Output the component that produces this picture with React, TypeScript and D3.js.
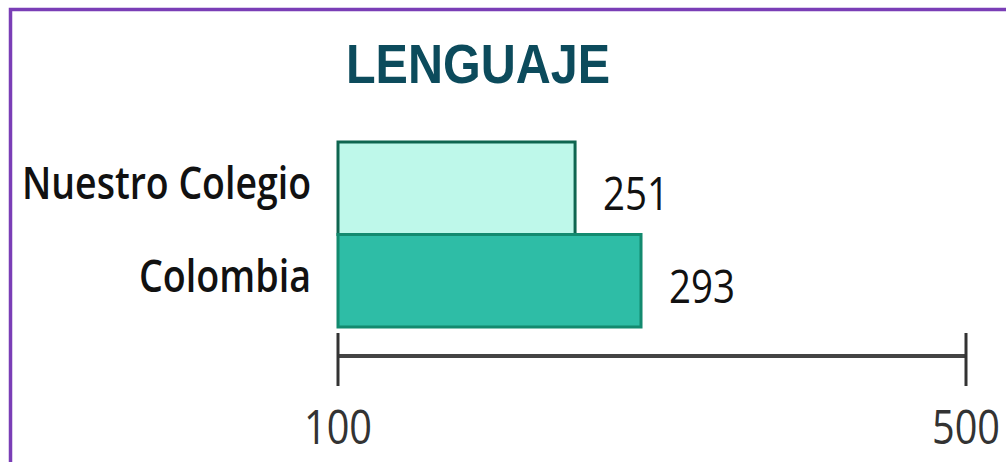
import React from "react";
import * as d3 from "d3";

const title = "LENGUAJE";
const categories = ["Nuestro Colegio", "Colombia"];
const values = [251, 293];
const barFills = ["#bef8ea", "#2ebda6"];
const barStrokes = ["#0f6650", "#138a6f"];
const tickValues = [100, 500];
const categoryLabelWidths = [289, 172];

export default function App() {
  const W = 1006;
  const H = 462;
  const x = d3.scaleLinear().domain([100, 500]).range([338, 966]);
  const y = d3.scaleBand<string>().domain(categories).range([142, 327]).padding(0);
  const axisY = 356;

  return (
    <svg
      width={W}
      height={H}
      style={{ position: "absolute", left: 0, top: 0, background: "#fff" }}
    >
      <rect x={0} y={0} width={W} height={H} fill="#fff" />
      <path d={`M10.5 ${H + 5} V9.5 H${W + 5}`} fill="none" stroke="#7a3eb6" strokeWidth={3.5} />

      <text
        x={346}
        y={83}
        fontFamily="Liberation Sans, Arial, sans-serif"
        fontWeight="bold"
        fontSize={55}
        fill="#0c4b5c"
        textLength={264}
        lengthAdjust="spacingAndGlyphs"
      >
        {title}
      </text>

      {categories.map((c, i) => {
        const y0 = y(c)!;
        const bw = y.bandwidth();
        return (
          <g key={c}>
            <rect
              x={x(100)}
              y={y0}
              width={x(values[i]) - x(100)}
              height={bw}
              fill={barFills[i]}
              stroke={barStrokes[i]}
              strokeWidth={3}
            />
            <text
              x={311}
              y={y0 + bw / 2 + 11}
              textAnchor="end"
              fontFamily="Open Sans, sans-serif"
              fontWeight={600}
              fontSize={45}
              fill="#111"
              textLength={categoryLabelWidths[i]}
              lengthAdjust="spacingAndGlyphs"
            >
              {c}
            </text>
            <text
              x={x(values[i]) + 28}
              y={y0 + bw / 2 + 22}
              fontFamily="Open Sans, sans-serif"
              fontSize={45}
              fill="#111"
              textLength={66}
              lengthAdjust="spacingAndGlyphs"
            >
              {values[i]}
            </text>
          </g>
        );
      })}

      <line x1={x(100)} x2={x(500)} y1={axisY} y2={axisY} stroke="#444" strokeWidth={4} />
      {tickValues.map((t) => (
        <g key={t}>
          <line x1={x(t)} x2={x(t)} y1={333} y2={386} stroke="#333" strokeWidth={3} />
          <text
            x={x(t)}
            y={444}
            textAnchor="middle"
            fontFamily="Open Sans, sans-serif"
            fontSize={48}
            fill="#333"
            textLength={68}
            lengthAdjust="spacingAndGlyphs"
          >
            {t}
          </text>
        </g>
      ))}
    </svg>
  );
}
